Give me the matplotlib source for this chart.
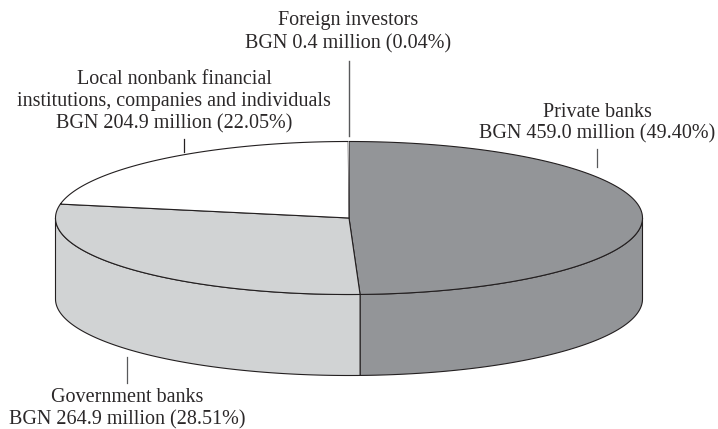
import matplotlib
matplotlib.use("Agg")
import matplotlib.pyplot as plt
from matplotlib.patches import Polygon
import numpy as np

# Shares of the pie, going clockwise from the top
names = ["Private banks", "Government banks", "Local nonbank", "Foreign investors"]
shares = [49.40, 28.51, 22.05, 0.04]
colors = ["#939598", "#d1d3d4", "#ffffff", "#ffffff"]

# Label lines
label_private = ["Private banks", "BGN 459.0 million (49.40%)"]
label_government = ["Government banks", "BGN 264.9 million (28.51%)"]
label_local = ["Local nonbank financial", "institutions, companies and individuals", "BGN 204.9 million (22.05%)"]
label_foreign = ["Foreign investors", "BGN 0.4 million (0.04%)"]

# Pie geometry in pixels
cx, cy = 349, 218
rx, ry = 293.5, 76.5
depth = 81
ink = "#231f20"
text_col = "#2b2829"

plt.rcParams['font.family'] = ['Liberation Serif', 'DejaVu Serif']

fig = plt.figure(figsize=(7.18, 4.29), dpi=100)
ax = fig.add_axes([0, 0, 1, 1])
ax.set_xlim(0, 718)
ax.set_ylim(429, 0)
ax.axis("off")


def arc(a0, a1):
    t = np.radians(np.linspace(a0, a1, 200))
    return cx + rx * np.cos(t), cy - ry * np.sin(t)


# Slice angles, start at 12 o'clock and go clockwise
ends = 90 - np.cumsum(shares) * 3.6
starts = np.concatenate([[90], ends[:-1]])

# Side wall, only the front half of the ellipse can be seen
for a0, a1, c in zip(starts, ends, colors):
    lo = max(a1, -180)
    hi = min(a0, 0)
    if hi <= lo:
        continue
    x, y = arc(hi, lo)
    pts = np.column_stack([np.r_[x, x[::-1]], np.r_[y, y[::-1] + depth]])
    ax.add_patch(Polygon(pts, closed=True, fc=c, ec=ink, lw=0.8, joinstyle="round"))

# Top of the pie, the tiny foreign slice gets no outline of its own
for a0, a1, c, s in zip(starts, ends, colors, shares):
    x, y = arc(a0, a1)
    pts = np.column_stack([np.r_[cx, x], np.r_[cy, y]])
    ax.add_patch(Polygon(pts, closed=True, fc=c, ec=ink, lw=0.8 if s > 1 else 0, joinstyle="round"))

# Leader lines
ax.plot([348.5, 348.5], [60.5, 136], color="#58595b", lw=1)
ax.plot([183.5, 183.5], [139, 152], color=ink, lw=0.9)
ax.plot([597, 597], [149, 167], color="#58595b", lw=0.9)
ax.plot([127, 127], [357, 383], color="#58595b", lw=0.9)


def put(lines, x, ys):
    for s, y in zip(lines, ys):
        ax.text(x, y, s, ha="center", va="baseline", fontsize=14.5, color=text_col)


put(label_foreign, 348, [24.5, 48])
put(label_local, 174, [84, 106, 128])
put(label_private, 597, [117, 138])
put(label_government, 127, [402.5, 424.5])

fig.savefig("out.png", dpi=100)
